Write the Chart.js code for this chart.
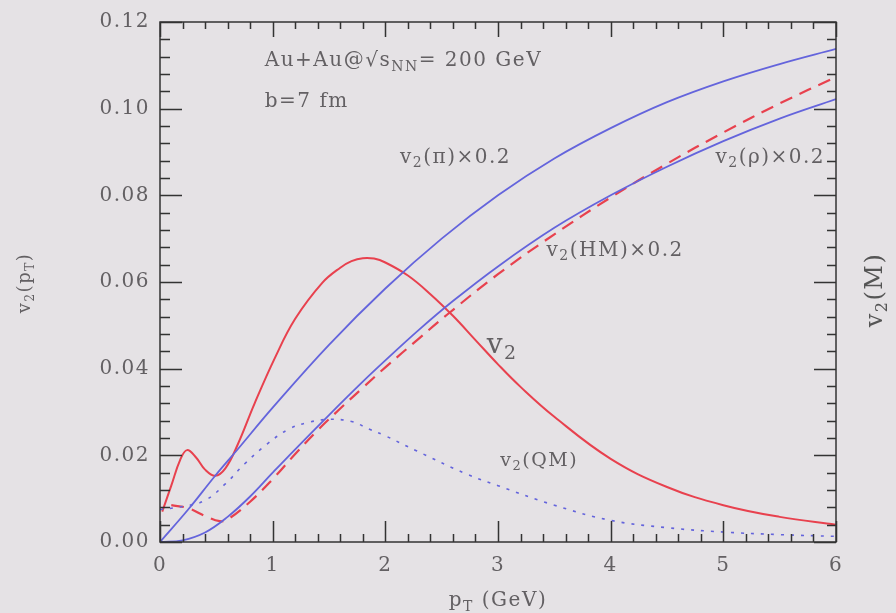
<!DOCTYPE html>
<html>
<head>
<meta charset="utf-8">
<script src="https://cdn.jsdelivr.net/npm/chart.js@4"></script>
<style>
  html, body { margin: 0; padding: 0; background: #e5e2e5; }
  canvas { display: block; }
</style>
</head>
<body>
<canvas id="flow" width="896" height="613"></canvas>
<script>
// pT grid (GeV) and v2 values for each curve
const totalPt = [0.02, 0.1, 0.18, 0.24, 0.32, 0.4, 0.49, 0.58, 0.69, 0.84, 1.02, 1.2, 1.44, 1.6, 1.7, 1.8, 1.9, 2.0, 2.2, 2.4, 2.6, 2.8, 3.0, 3.2, 3.5, 4.0, 4.5, 5.0, 5.5, 6.0];
const totalV2 = [0.007, 0.013, 0.019, 0.0212, 0.0195, 0.0167, 0.0153, 0.017, 0.0225, 0.032, 0.0425, 0.0515, 0.0598, 0.0633, 0.0648, 0.0655, 0.0654, 0.0645, 0.0615, 0.0572, 0.0522, 0.0466, 0.0410, 0.0358, 0.0289, 0.0192, 0.0127, 0.0085, 0.0058, 0.0040];

const pionPt = [0, 0.25, 0.49, 0.69, 1.0, 1.5, 2.0, 2.5, 3.0, 3.5, 4.0, 4.5, 5.0, 5.5, 6.0];
const pionV2 = [0, 0.0075, 0.0153, 0.0214, 0.031, 0.0455, 0.0585, 0.0700, 0.0800, 0.0885, 0.0955, 0.1015, 0.1063, 0.1103, 0.1138];

const rhoPt = [0, 0.2, 0.4, 0.6, 0.8, 1.0, 1.2, 1.5, 1.8, 2.0, 2.3, 2.6, 3.0, 3.5, 4.0, 4.5, 5.0, 5.5, 6.0];
const rhoV2 = [0, 0.0004, 0.0022, 0.0058, 0.0105, 0.016, 0.0214, 0.0293, 0.0370, 0.0419, 0.0490, 0.0556, 0.0636, 0.0725, 0.0800, 0.0866, 0.0925, 0.0977, 0.1022];

const hmPt = [0.1, 0.25, 0.4, 0.53, 0.6, 0.8, 1.0, 1.2, 1.4, 1.6, 1.8, 2.0, 2.3, 2.55, 3.0, 3.5, 4.0, 4.5, 5.0, 5.5, 6.0];
const hmV2 = [0.0085, 0.0078, 0.006, 0.0048, 0.0052, 0.0093, 0.0145, 0.0203, 0.0258, 0.0308, 0.0356, 0.0403, 0.0470, 0.0525, 0.0618, 0.0710, 0.0795, 0.0873, 0.0945, 0.1012, 0.1073];

const qmPt = [0, 0.2, 0.4, 0.58, 0.75, 0.95, 1.14, 1.3, 1.5, 1.7, 1.86, 2.0, 2.28, 2.72, 3.0, 3.5, 4.0, 4.5, 5.0, 5.5, 6.0];
const qmV2 = [0.0075, 0.0082, 0.0096, 0.0134, 0.018, 0.0226, 0.026, 0.0275, 0.0283, 0.0278, 0.026, 0.0245, 0.021, 0.0157, 0.013, 0.0085, 0.005, 0.0033, 0.0023, 0.0017, 0.0013];

// axis ticks
const xTicks = [0, 1, 2, 3, 4, 5, 6];
const yTicks = [0, 0.02, 0.04, 0.06, 0.08, 0.10, 0.12];
const xMinorStep = 0.2;
const yMinorStep = 0.004;

const FONT = "'DejaVu Serif', serif";
const TEXT = '#636063';
const RED = '#e8414e';
const BLUE = '#6464dc';

const pts = (xs, ys) => xs.map((x, i) => ({ x, y: ys[i] }));

// rich text with subscripts: parts = [[text, isSub], ...]
function drawRich(ctx, parts, x, y, size, color, align) {
  ctx.save();
  ctx.fillStyle = color;
  ctx.textBaseline = 'middle';
  ctx.textAlign = 'left';
  const fontFor = sub => `${sub ? Math.round(size * 0.68) : size}px ${FONT}`;
  let w = 0;
  parts.forEach(([t, sub]) => { ctx.font = fontFor(sub); w += ctx.measureText(t).width; });
  let cx = align === 'center' ? x - w / 2 : x;
  parts.forEach(([t, sub]) => {
    ctx.font = fontFor(sub);
    ctx.fillText(t, cx, sub ? y + size * 0.3 : y);
    cx += ctx.measureText(t).width;
  });
  ctx.restore();
}

const background = {
  id: 'background',
  beforeDraw(chart) {
    const { ctx, width, height } = chart;
    ctx.fillStyle = '#e5e2e5';
    ctx.fillRect(0, 0, width, height);
    // wide old-style lettering for every label on the canvas
    ctx.letterSpacing = '1.5px';
  },
};

// box frame with inward ticks on all four sides
const frame = {
  id: 'frame',
  afterDatasetsDraw(chart) {
    const { ctx, chartArea: a, scales: { x, y } } = chart;
    ctx.save();
    ctx.strokeStyle = '#333';
    ctx.lineWidth = 1.5;
    ctx.strokeRect(a.left, a.top, a.right - a.left, a.bottom - a.top);
    ctx.beginPath();
    for (let v = 0; v <= 6.0001; v += xMinorStep) {
      const px = Math.round(x.getPixelForValue(v)) + 0.5;
      const major = xTicks.some(t => Math.abs(t - v) < 1e-6);
      ctx.moveTo(px, a.bottom); ctx.lineTo(px, a.bottom - (major ? 21 : 8));
      ctx.moveTo(px, a.top); ctx.lineTo(px, a.top + (major ? 15 : 7));
    }
    for (let v = 0; v <= 0.12001; v += yMinorStep) {
      const py = Math.round(y.getPixelForValue(v)) + 0.5;
      const major = yTicks.some(t => Math.abs(t - v) < 1e-6);
      ctx.moveTo(a.left, py); ctx.lineTo(a.left + (major ? 22 : 10), py);
      ctx.moveTo(a.right, py); ctx.lineTo(a.right - (major ? 22 : 9), py);
    }
    ctx.stroke();
    ctx.restore();
  },
};

const labels = {
  id: 'labels',
  afterDraw(chart) {
    const { ctx, chartArea: a, scales: { x, y } } = chart;
    const at = (dx, dy) => [x.getPixelForValue(dx), y.getPixelForValue(dy)];
    let p;
    p = at(0.93, 0.111);
    drawRich(ctx, [['Au+Au@\u221As', false], ['NN', true], ['= 200 GeV', false]], p[0], p[1], 20, TEXT);
    p = at(0.93, 0.1017);
    drawRich(ctx, [['b=7 fm', false]], p[0], p[1], 20, TEXT);
    p = at(2.13, 0.0887);
    drawRich(ctx, [['v', false], ['2', true], ['(\u03C0)\u00D70.2', false]], p[0], p[1], 20, TEXT);
    p = at(4.93, 0.0887);
    drawRich(ctx, [['v', false], ['2', true], ['(\u03C1)\u00D70.2', false]], p[0], p[1], 20, TEXT);
    p = at(3.43, 0.0673);
    drawRich(ctx, [['v', false], ['2', true], ['(HM)\u00D70.2', false]], p[0], p[1], 20, TEXT);
    p = at(2.9, 0.0454);
    drawRich(ctx, [['v', false], ['2', true]], p[0], p[1], 28, TEXT);
    p = at(3.02, 0.0187);
    drawRich(ctx, [['v', false], ['2', true], ['(QM)', false]], p[0], p[1], 19, TEXT);

    // axis titles
    drawRich(ctx, [['p', false], ['T', true], [' (GeV)', false]], (a.left + a.right) / 2, a.bottom + 59, 20, TEXT, 'center');
    ctx.save();
    ctx.translate(a.left - 135, 283);
    ctx.rotate(-Math.PI / 2);
    drawRich(ctx, [['v', false], ['2', true], ['(p', false], ['T', true], [')', false]], 0, 0, 18, TEXT, 'center');
    ctx.restore();
    ctx.save();
    ctx.translate(a.right + 40, 290);
    ctx.rotate(-Math.PI / 2);
    drawRich(ctx, [['v', false], ['2', true], ['(M)', false]], 0, 0, 24, '#555', 'center');
    ctx.restore();
  },
};

const line = (label, xs, ys, color, width, dash) => ({
  label,
  data: pts(xs, ys),
  borderColor: color,
  borderWidth: width,
  borderDash: dash || [],
  pointRadius: 0,
  fill: false,
  tension: 0.4,
});

new Chart(document.getElementById('flow'), {
  type: 'line',
  data: {
    datasets: [
      line('v2(QM)', qmPt, qmV2, BLUE, 1.6, [3, 7]),
      line('v2(pi)x0.2', pionPt, pionV2, BLUE, 1.8),
      line('v2(rho)x0.2', rhoPt, rhoV2, BLUE, 1.8),
      line('v2(HM)x0.2', hmPt, hmV2, RED, 2.2, [13, 8]),
      line('v2', totalPt, totalV2, RED, 2),
    ],
  },
  options: {
    responsive: false,
    animation: false,
    layout: { padding: { top: 16, right: 60, left: 0, bottom: 0 } },
    plugins: { legend: { display: false }, tooltip: { enabled: false } },
    scales: {
      x: {
        type: 'linear',
        min: 0,
        max: 6,
        grid: { display: false, drawTicks: false },
        border: { display: false },
        ticks: { stepSize: 1, padding: 12, color: TEXT, font: { family: FONT, size: 20 } },
        afterFit: s => { s.height = 71; },
      },
      y: {
        min: 0,
        max: 0.12,
        grid: { display: false, drawTicks: false },
        border: { display: false },
        ticks: { stepSize: 0.02, padding: 10, color: TEXT, font: { family: FONT, size: 20 },
          callback: v => v.toFixed(2) },
        afterFit: s => { s.width = 160; },
      },
    },
  },
  plugins: [background, frame, labels],
});
</script>
</body>
</html>
